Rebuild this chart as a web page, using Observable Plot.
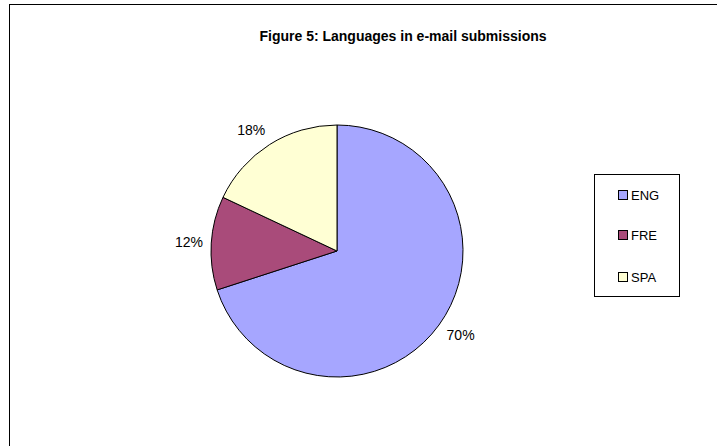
<!DOCTYPE html>
<html><head><meta charset="utf-8">
<script src="https://cdn.jsdelivr.net/npm/d3@7"></script>
<script src="https://cdn.jsdelivr.net/npm/@observablehq/plot@0.6"></script>
<style>
html,body{margin:0;padding:0;background:#fff;overflow:hidden;width:717px;height:446px;font-family:"Liberation Sans",Arial,sans-serif;}
#frame{position:absolute;left:9px;top:4px;width:800px;height:600px;border-left:1.5px solid #000;border-top:1.5px solid #000;}
#title{position:absolute;left:203px;width:400px;top:29px;line-height:15px;text-align:center;font-weight:bold;font-size:14px;color:#000;white-space:nowrap;}
#chart{position:absolute;left:0;top:0;}
#legend{position:absolute;left:594px;top:174px;width:86px;height:123px;border:1px solid #000;background:#fff;box-sizing:border-box;}
.item{position:absolute;left:23px;height:14px;line-height:14px;font-size:13px;color:#000;}
.sw{display:inline-block;width:8px;height:8px;border:1px solid #000;margin-right:3px;vertical-align:0px;}
</style></head>
<body>
<div id="frame"></div>
<div id="chart"></div>
<div id="title">Figure 5: Languages in e-mail submissions</div>
<div id="legend"></div>
<script>
const categories = ["ENG", "FRE", "SPA"];
const shares = [70, 12, 18];
const labels = ["70%", "12%", "18%"];
const colors = ["#a6a6ff", "#a94b7a", "#ffffd4"];

const data = categories.map((c, i) => ({category: c, value: shares[i], label: labels[i]}));
const arcs = d3.pie().sort(null).value(d => d.value)(data);
const labelData = arcs.map(a => {
  const mid = (a.startAngle + a.endAngle) / 2;
  return {
    label: a.data.label,
    x: 1.07 * Math.sin(mid),
    y: 1.135 * Math.cos(mid),
    anchor: Math.sin(mid) < 0 ? "end" : "start"
  };
});

const pieMark = (index, scales) => {
  const cx = scales.x(0), cy = scales.y(0);
  const r = scales.x(1) - scales.x(0);
  const arcGen = d3.arc().innerRadius(0).outerRadius(r);
  const g = d3.create("svg:g").attr("transform", `translate(${cx},${cy})`);
  g.selectAll("path").data(arcs).join("path")
    .attr("d", arcGen)
    .attr("fill", (d, i) => colors[i])
    .attr("stroke", "#000")
    .attr("stroke-width", 1)
    .attr("stroke-linejoin", "round");
  return g.node();
};

const textOpts = {x: "x", y: "y", text: "label", fontSize: 14, fill: "#000", fontFamily: "Liberation Sans, Arial, sans-serif"};

const chart = Plot.plot({
  width: 717,
  height: 446,
  margin: 0,
  style: {background: "transparent", overflow: "visible"},
  x: {domain: [-1, 1], range: [211, 463], axis: null},
  y: {domain: [-1, 1], range: [377, 125], axis: null},
  marks: [
    pieMark,
    Plot.text(labelData.filter(d => d.anchor === "end"), {...textOpts, textAnchor: "end"}),
    Plot.text(labelData.filter(d => d.anchor === "start"), {...textOpts, textAnchor: "start"})
  ]
});
document.getElementById("chart").appendChild(chart);

const legend = document.getElementById("legend");
const itemTops = [14, 54, 96];
categories.forEach((c, i) => {
  const div = document.createElement("div");
  div.className = "item";
  div.style.top = itemTops[i] + "px";
  div.innerHTML = `<span class="sw" style="background:${colors[i]}"></span>${c}`;
  legend.appendChild(div);
});
</script>
</body></html>
